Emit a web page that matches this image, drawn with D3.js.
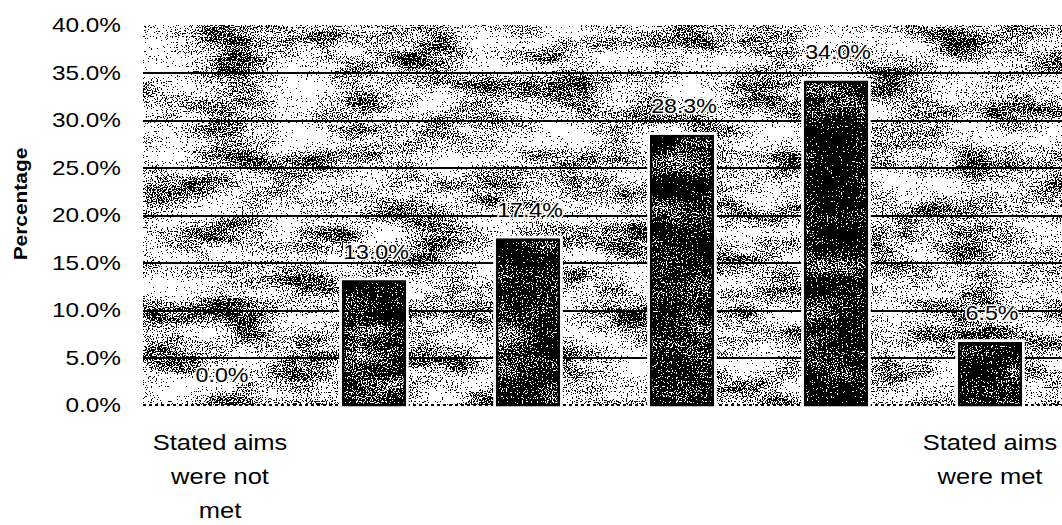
<!DOCTYPE html>
<meta charset="utf-8">
<style>
body { margin: 0; background: #fff; }
text { font-family: "Liberation Sans", Arial, sans-serif; fill: #000; }
.grid line { stroke: #000; stroke-width: 2; shape-rendering: crispEdges; }
.grid path { stroke-width: 0; }
.yaxis path, .yaxis line { display: none; }
.yaxis text { font-size: 21px; }
</style>
<body>
<script src="https://d3js.org/d3.v7.min.js"></script>
<script>

// data
var categories = ["1", "2", "3", "4", "5", "6"];
var values = [0.0, 13.0, 17.4, 28.3, 34.0, 6.5];
var catLabels = [["Stated aims", "were not", "met"], [], [], [], [], ["Stated aims", "were met"]];
var yTicks = [0, 5, 10, 15, 20, 25, 30, 35, 40];
var yTitle = "Percentage";

var W = 1062, H = 525;
var plot = {left: 143, right: 1067, top: 22, bottom: 405};
var stretch = 1.16;   // the scan is wider than tall

var svg = d3.select("body").append("svg")
    .attr("width", W).attr("height", H);

// speckle textures, like the photocopied original
var defs = svg.append("defs");
var opaqueGrey = "1 0 0 0 0  1 0 0 0 0  1 0 0 0 0  0 0 0 0 1";
function speckle(id, table, seed, coarseW) {
    var f = defs.append("filter").attr("id", id)
        .attr("x", 0).attr("y", 0).attr("width", 1).attr("height", 1)
        .attr("color-interpolation-filters", "sRGB");
    f.append("feTurbulence").attr("type", "fractalNoise")
        .attr("baseFrequency", "0.8").attr("numOctaves", 1).attr("seed", seed).attr("result", "fineRaw");
    f.append("feColorMatrix").attr("in", "fineRaw").attr("type", "matrix")
        .attr("values", opaqueGrey).attr("result", "fine");
    f.append("feTurbulence").attr("type", "fractalNoise")
        .attr("baseFrequency", "0.015 0.04").attr("numOctaves", 3).attr("seed", seed + 4).attr("result", "coarseRaw");
    f.append("feColorMatrix").attr("in", "coarseRaw").attr("type", "matrix")
        .attr("values", opaqueGrey).attr("result", "coarse");
    f.append("feComposite").attr("in", "fine").attr("in2", "coarse")
        .attr("operator", "arithmetic").attr("k1", 0).attr("k2", 1).attr("k3", coarseW).attr("k4", -coarseW / 2)
        .attr("result", "sum");
    f.append("feColorMatrix").attr("in", "sum").attr("type", "matrix")
        .attr("values", "2.5 0 0 0 -0.75  2.5 0 0 0 -0.75  2.5 0 0 0 -0.75  0 0 0 0 1");
    var ct = f.append("feComponentTransfer");
    ["feFuncR", "feFuncG", "feFuncB"].forEach(function(n) {
        ct.append(n).attr("type", "discrete").attr("tableValues", table);
    });
}
speckle("bgTex", "0 0 0 1 1 1 1 1 1 1", 2, 0.55);
speckle("barTex", "0 0 0 0 0 0 0 0 1 1", 9, 0.4);

var x = d3.scaleBand().domain(categories)
    .range([plot.left, plot.right]).paddingInner(0.6).paddingOuter(0.3);
var y = d3.scaleLinear().domain([0, 40]).range([plot.bottom, plot.top + 3]);

// plot background
svg.append("rect")
    .attr("x", plot.left).attr("y", y(40))
    .attr("width", W - plot.left).attr("height", y(0) - y(40))
    .attr("fill", "#fff")
    .attr("filter", "url(#bgTex)");

// gridlines (no line at the top)
svg.append("g")
    .attr("class", "grid")
    .attr("transform", "translate(" + plot.left + ",0)")
    .call(d3.axisRight(y)
        .tickValues(yTicks.filter(function(d) { return d > 0 && d < 40; }))
        .tickSize(W - plot.left)
        .tickFormat(""));

// baseline, broken like the scan
svg.append("line")
    .attr("x1", plot.left).attr("x2", W)
    .attr("y1", y(0)).attr("y2", y(0))
    .attr("stroke", "#000").attr("stroke-width", 2)
    .attr("stroke-dasharray", "3 3");

// y labels
svg.append("g")
    .attr("class", "yaxis")
    .attr("transform", "translate(121,0)")
    .call(d3.axisLeft(y).tickValues(yTicks).tickSize(0).tickPadding(0)
        .tickFormat(function(d) { return d.toFixed(1) + "%"; }))
    .selectAll("text")
    .attr("transform", "scale(" + stretch + ",1)");

// bars
var bars = svg.append("g").selectAll("g.bar")
    .data(values.map(function(v, i) { return {cat: categories[i], v: v}; }))
    .enter().append("g").attr("class", "bar");

bars.filter(function(d) { return d.v > 0; }).append("rect")
    .attr("x", function(d) { return x(d.cat); })
    .attr("y", function(d) { return y(d.v); })
    .attr("width", x.bandwidth())
    .attr("height", function(d) { return y(0) - y(d.v); })
    .attr("fill", "none").attr("stroke", "#fff").attr("stroke-width", 8);

bars.filter(function(d) { return d.v > 0; }).append("rect")
    .attr("x", function(d) { return x(d.cat); })
    .attr("y", function(d) { return y(d.v); })
    .attr("width", x.bandwidth())
    .attr("height", function(d) { return y(0) - y(d.v); })
    .attr("fill", "#fff")
    .attr("filter", "url(#barTex)");

bars.filter(function(d) { return d.v > 0; }).append("rect")
    .attr("x", function(d) { return x(d.cat); })
    .attr("y", function(d) { return y(d.v); })
    .attr("width", x.bandwidth())
    .attr("height", function(d) { return y(0) - y(d.v); })
    .attr("fill", "none").attr("stroke", "#000").attr("stroke-width", 2.5);

// value labels
bars.append("text")
    .attr("transform", function(d) {
        return "translate(" + (x(d.cat) + x.bandwidth() / 2 + 2) + "," + (y(d.v) - 23) + ") scale(" + stretch + ",1)";
    })
    .attr("text-anchor", "middle")
    .style("font-size", "20px")
    .style("paint-order", "stroke")
    .style("stroke", "#fff")
    .style("stroke-width", "3px")
    .text(function(d) { return d.v.toFixed(1) + "%"; });

// category labels
var cl = svg.append("g").selectAll("text")
    .data(categories)
    .enter().append("text")
    .attr("transform", function(d) {
        return "translate(" + (x(d) + x.bandwidth() / 2) + ",450) scale(" + stretch + ",1)";
    })
    .attr("text-anchor", "middle")
    .style("font-size", "22px");
cl.selectAll("tspan")
    .data(function(d, i) { return catLabels[i]; })
    .enter().append("tspan")
    .attr("x", 0)
    .attr("dy", function(d, i) { return i === 0 ? 0 : 34; })
    .text(function(d) { return d; });

// y title
svg.append("text")
    .attr("transform", "translate(27,204) rotate(-90) scale(1.1,1)")
    .attr("text-anchor", "middle")
    .style("font-size", "19px")
    .style("font-weight", "bold")
    .text(yTitle);

</script>
</body>
